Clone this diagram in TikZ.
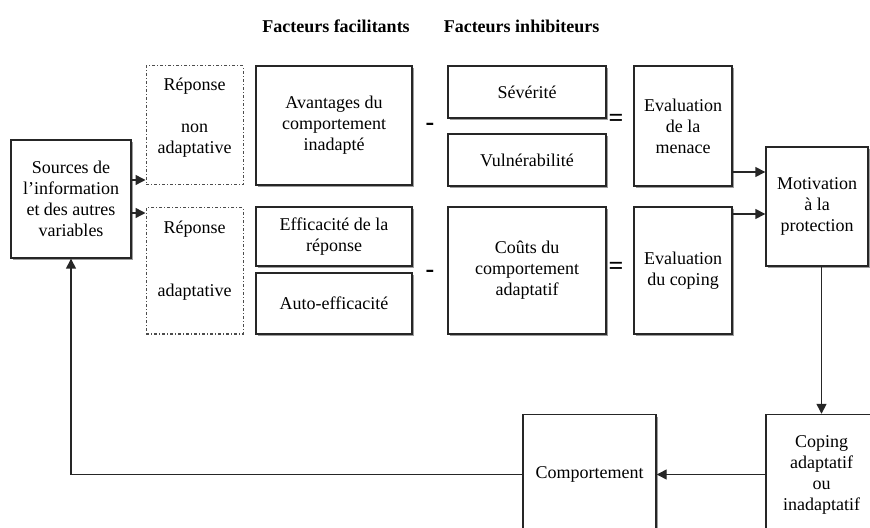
\documentclass[tikz,border=0pt]{standalone}
\usepackage{fontspec}
\setmainfont{Liberation Serif}
\usetikzlibrary{shadows,arrows.meta}

\begin{document}
\begin{tikzpicture}[x=0.5pt,y=0.5pt,yscale=-1,xscale=1,
	font=\fontsize{9}{10.5}\selectfont,
	wh/.style 2 args={minimum width=#1*0.5pt,minimum height=#2*0.5pt},
	box/.style={draw=black!85,line width=0.7pt,fill=white,align=center,inner sep=1pt,
		drop shadow={shadow xshift=1.1pt,shadow yshift=-1.1pt,opacity=0.7,fill=black!55}},
	dbox/.style={draw=black!70,dash pattern=on 1.5pt off 1pt on 0.5pt off 1pt,line width=0.5pt,inner sep=0pt},
	txt/.style={align=center,inner sep=0.75pt},
	oper/.style={font=\fontsize{13}{13}\selectfont\bfseries,inner sep=0.75pt},
	title/.style={font=\fontsize{9}{10.5}\selectfont\bfseries,inner sep=0.75pt},
	arr/.style={draw=black!85,line width=0.7pt,-{Triangle[length=5pt,width=5pt]}}]
	\useasboundingbox (0,0) rectangle (870,528);
	
	% Titles
	\node[title] (tfac) at (336,26) {Facteurs facilitants};
	\node[title] (tinh) at (521.5,26) {Facteurs inhibiteurs};
	
	%Shape: Rectangle [sources]
	\node[box,wh={120}{118}] (src) at (71,199) {Sources de\\ l'information\\ et des autres\\ variables};
	
	%Shape: Dashed Rectangles [reponses]
	\node[dbox,wh={97}{119}] (rnon) at (194.5,125.5) {};
	\node[txt] (trnon) at (194.5,118) {Réponse\\ \\ non\\ adaptative};
	\node[dbox,wh={97}{126}] (rad) at (194.5,271) {};
	\node[txt] (trad) at (194.5,261) {Réponse\\ \\ \\ adaptative};
	
	%Shape: Rectangle [facteurs facilitants]
	\node[box,wh={156}{119}] (ava) at (334,125.5) {Avantages du\\ comportement\\ inadapté};
	\node[box,wh={156}{59}] (eff) at (334,236.5) {Efficacité de la\\ réponse};
	\node[box,wh={156}{61}] (aut) at (334,303.5) {Auto-efficacité};
	
	%Shape: Rectangle [facteurs inhibiteurs]
	\node[box,wh={158}{52}] (sev) at (527,92) {Sévérité};
	\node[box,wh={158}{52}] (vul) at (527,160) {Vulnérabilité};
	\node[box,wh={158}{127}] (cou) at (527,270.5) {Coûts du\\ comportement\\ adaptatif};
	
	%Shape: Rectangle [evaluations]
	\node[box,wh={98}{120}] (evm) at (683,126) {Evaluation\\ de la\\ menace};
	\node[box,wh={98}{127}] (evc) at (683,270.5) {Evaluation\\ du coping};
	
	%Shape: Rectangle [motivation, coping, comportement]
	\node[box,wh={102}{119}] (mot) at (817,206.5) {Motivation\\ à la\\ protection};
	\node[box,wh={111}{120}] (cop) at (821.5,474.5) {Coping\\ adaptatif\\ ou\\ inadaptatif};
	\node[box,wh={133}{120}] (com) at (589.5,474.5) {Comportement};
	
	% Text Node [operateurs]
	\node[oper] (mi1) at (430,127) {-};
	\node[oper] (mi2) at (430,274) {-};
	\node[oper] (eq1) at (616,120) {=};
	\node[oper] (eq2) at (616,268) {=};
	
	% levels of the arrows
	\coordinate (lv1) at (0,180);
	\coordinate (lv2) at (0,213);
	\coordinate (lv3) at (0,172);
	\coordinate (lv4) at (0,214);
	
	%Straight Lines
	\draw[arr] (src.east |- lv1) -- (rnon.west |- lv1);
	\draw[arr] (src.east |- lv2) -- (rad.west |- lv2);
	\draw[arr] (evm.east |- lv3) -- (mot.west |- lv3);
	\draw[arr] (evc.east |- lv4) -- (mot.west |- lv4);
	\draw[arr] (mot.south -| cop.north) -- (cop.north);
	\draw[arr] (cop.west) -- (com.east);
	\draw[arr] (com.west) -| (src.south);
	
\end{tikzpicture}
\end{document}
